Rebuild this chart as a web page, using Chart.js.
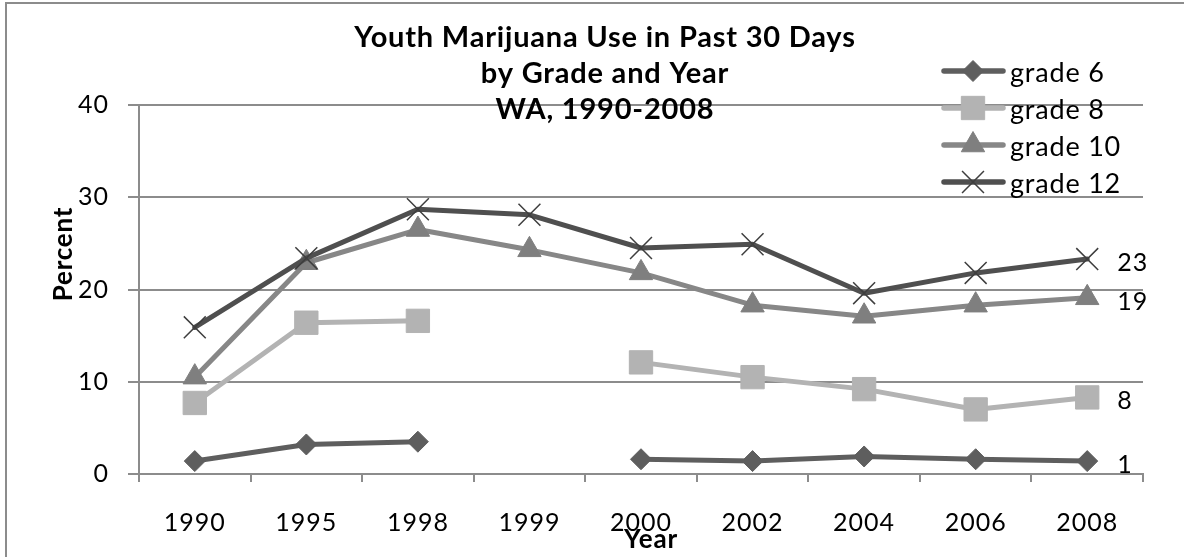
<!DOCTYPE html>
<html>
<head>
<meta charset="utf-8">
<script src="https://cdn.jsdelivr.net/npm/chart.js@4.4.0/dist/chart.umd.min.js"></script>
<style>
  html, body { margin: 0; padding: 0; background: #fff; }
  canvas { display: block; }
</style>
</head>
<body>
<canvas id="chart" width="1184" height="557"></canvas>
<script>
// Survey years (categories) and percent of students reporting use in the past 30 days
const years = ['1990', '1995', '1998', '1999', '2000', '2002', '2004', '2006', '2008'];
const grade6  = [1.4, 3.2, 3.5, null, 1.6, 1.4, 1.9, 1.6, 1.4];
const grade8  = [7.7, 16.4, 16.6, null, 12.1, 10.5, 9.2, 7.0, 8.3];
const grade10 = [10.5, 22.9, 26.5, 24.3, 21.8, 18.3, 17.1, 18.3, 19.1];
const grade12 = [15.9, 23.4, 28.7, 28.1, 24.5, 24.9, 19.6, 21.8, 23.3];
const seriesNames = ['grade 6', 'grade 8', 'grade 10', 'grade 12'];
const yTicks = [0, 10, 20, 30, 40];
const titleLines = ['Youth Marijuana Use in Past 30 Days', 'by Grade and Year', 'WA, 1990-2008'];
const xTitle = 'Year';
const yTitle = 'Percent';

const FONT = 'Lato, "Open Sans", sans-serif';
const GRID = '#8c8c8c';

const styles = [
  { line: '#5e5e5e', fill: '#5e5e5e', edge: '#5e5e5e', shape: 'rectRot',  radius: 10.5, edgeWidth: 1 },
  { line: '#b3b3b3', fill: '#b3b3b3', edge: '#b3b3b3', shape: 'rect',     radius: 16.5, edgeWidth: 1 },
  { line: '#878787', fill: '#7f7f7f', edge: '#7f7f7f', shape: 'triangle', radius: 13.5, edgeWidth: 1 },
  { line: '#4f4f4f', fill: '#3e3e3e', edge: '#3e3e3e', shape: 'crossRot', radius: 15.5, edgeWidth: 1.5 }
];
const seriesValues = [grade6, grade8, grade10, grade12];

const datasets = seriesValues.map((vals, i) => ({
  label: seriesNames[i],
  data: vals,
  borderColor: styles[i].line,
  backgroundColor: styles[i].fill,
  borderWidth: 5,
  pointStyle: styles[i].shape,
  pointRadius: styles[i].radius,
  pointHoverRadius: styles[i].radius,
  pointBackgroundColor: styles[i].fill,
  pointBorderColor: styles[i].edge,
  pointBorderWidth: styles[i].edgeWidth,
  spanGaps: false,
  tension: 0,
  order: seriesValues.length - i
}));

function drawMarker(ctx, st, x, y) {
  ctx.save();
  ctx.fillStyle = st.fill;
  ctx.strokeStyle = st.edge;
  ctx.lineWidth = st.edgeWidth;
  Chart.helpers.drawPoint(ctx, { pointStyle: st.shape, radius: st.radius, borderWidth: st.edgeWidth, rotation: 0 }, x, y);
  ctx.restore();
}

function setTracking(ctx, px) {
  if ('letterSpacing' in ctx) ctx.letterSpacing = px + 'px';
}

// Frame, title, axis titles, legend and end-of-line value labels
const decorations = {
  id: 'decorations',
  beforeDraw(chart) {
    // slightly open tracking for the axis tick labels
    setTracking(chart.ctx, 1);
  },
  afterDraw(chart) {
    const ctx = chart.ctx;
    ctx.save();

    // outer frame
    ctx.strokeStyle = GRID;
    ctx.lineWidth = 2;
    ctx.beginPath();
    ctx.moveTo(6, 600);
    ctx.lineTo(6, 3);
    ctx.lineTo(1200, 3);
    ctx.stroke();

    // title
    ctx.fillStyle = '#000';
    ctx.textAlign = 'center';
    ctx.textBaseline = 'alphabetic';
    ctx.font = 'bold 29px ' + FONT;
    setTracking(ctx, 0.8);
    titleLines.forEach((t, i) => ctx.fillText(t, 605, 47 + i * 36));

    // axis titles
    ctx.font = 'bold 26px ' + FONT;
    setTracking(ctx, 0.8);
    ctx.fillText(xTitle, 651, 548);
    ctx.save();
    ctx.translate(64, 254);
    ctx.rotate(-Math.PI / 2);
    ctx.textBaseline = 'middle';
    ctx.fillText(yTitle, 0, 0);
    ctx.restore();

    // legend
    ctx.textAlign = 'left';
    ctx.font = '27px ' + FONT;
    setTracking(ctx, 0.8);
    chart.data.datasets.forEach((ds, i) => {
      const st = styles[i];
      const ry = 71 + i * 37;
      ctx.save();
      ctx.strokeStyle = st.line;
      ctx.lineWidth = 5.5;
      ctx.lineCap = 'round';
      ctx.beginPath();
      ctx.moveTo(944, ry);
      ctx.lineTo(1003, ry);
      ctx.stroke();
      ctx.restore();
      drawMarker(ctx, st, 973, ry);
      ctx.fillStyle = '#000';
      ctx.fillText(ds.label, 1010, ry + 11);
    });

    // value labels at the last point of each series
    ctx.font = '25px ' + FONT;
    setTracking(ctx, 1);
    ctx.textBaseline = 'middle';
    chart.data.datasets.forEach((ds, i) => {
      const meta = chart.getDatasetMeta(i);
      const last = ds.data.length - 1;
      const pt = meta.data[last];
      if (!pt || ds.data[last] == null) return;
      ctx.fillText(String(Math.round(ds.data[last])), pt.x + 30, pt.y + 4);
    });

    ctx.restore();
  }
};

new Chart(document.getElementById('chart'), {
  type: 'line',
  data: { labels: years, datasets },
  options: {
    responsive: false,
    animation: false,
    devicePixelRatio: 1,
    layout: { padding: { top: 105, right: 41, left: 0, bottom: 0 } },
    plugins: {
      legend: { display: false },
      title: { display: false },
      tooltip: { enabled: false }
    },
    elements: {
      line: { borderJoinStyle: 'round', borderCapStyle: 'round' }
    },
    scales: {
      x: {
        type: 'category',
        offset: true,
        grid: { offset: true, drawOnChartArea: false, drawTicks: true, tickLength: 8, color: GRID, lineWidth: 2 },
        border: { color: GRID, width: 2 },
        ticks: { color: '#000', font: { family: FONT, size: 25 }, padding: 26, maxRotation: 0, autoSkip: false },
        afterFit(scale) { scale.height = 83; }
      },
      y: {
        min: 0,
        max: 40,
        afterBuildTicks(scale) { scale.ticks = yTicks.map(v => ({ value: v })); },
        grid: { color: GRID, lineWidth: 2, tickLength: 11 },
        border: { color: GRID, width: 2 },
        ticks: { color: '#000', font: { family: FONT, size: 25 }, padding: 19 },
        afterFit(scale) { scale.width = 139; }
      }
    }
  },
  plugins: [decorations]
});
</script>
</body>
</html>
